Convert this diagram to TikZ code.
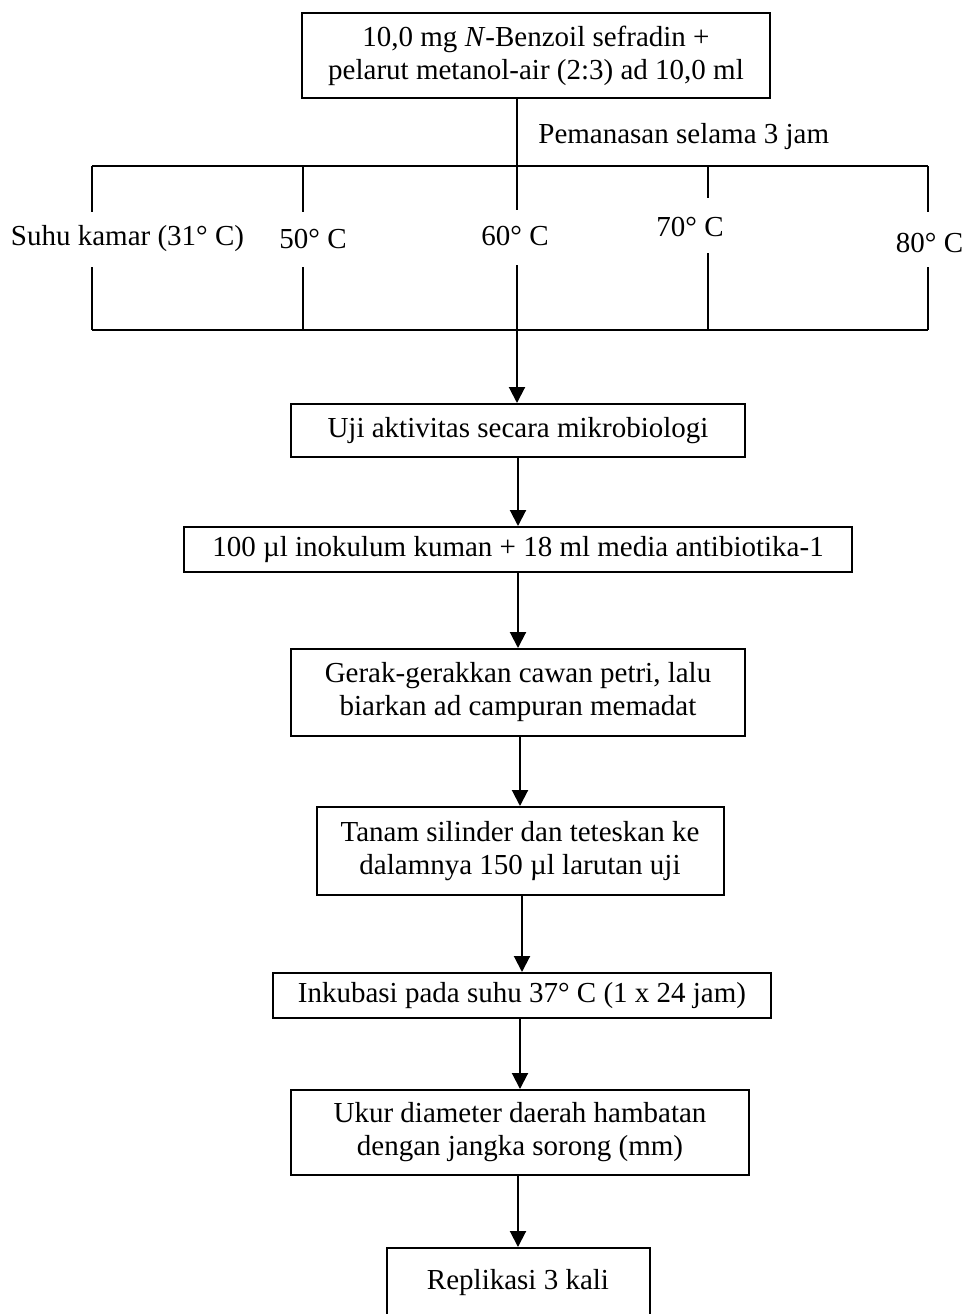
\documentclass[tikz,border=0pt]{standalone}
\usepackage{fontspec}
\setmainfont{Liberation Serif}
\usepackage{tikz}
\usetikzlibrary{arrows.meta,positioning}
\tikzset{
  stepbox/.style={
    draw,
    rectangle,
    align=center,
    inner sep=0pt,
    line width=1pt,
    font=\fontsize{14.5pt}{16.5pt}\selectfont,
  },
  templabel/.style={
    inner sep=0pt,
    font=\fontsize{14.5pt}{16.5pt}\selectfont,
  },
  bus/.style={line width=1pt},
  flow/.style={line width=1pt, -{Triangle[length=8pt,width=8pt]}},
}

\begin{document}
\begin{tikzpicture}[x=0.5pt,y=-0.5pt]
  \useasboundingbox (0,0) rectangle (966,1314);
  \node[stepbox, minimum width=234pt, minimum height=42.5pt] (sample) at (536,55.5)
    {10,0 mg \textit{N}-Benzoil sefradin +\\pelarut metanol-air (2:3) ad 10,0 ml};
  \node[templabel, anchor=west] (heat) at (538,137) {Pemanasan selama 3 jam};
  \foreach \i/\x/\lx/\ly/\ea/\eb/\txt in {
      1/92/127.5/239/212/267/Suhu kamar (31° C),
      2/303/313/239/212/267/50° C,
      3/517/515/236/210/265/60° C,
      4/708/690/227/198/253/70° C,
      5/928/929.5/243/212/267/80° C} {
    \coordinate (top\i) at (\x,166);
    \coordinate (bot\i) at (\x,330);
    \coordinate (ta\i) at (\x,\ea);
    \coordinate (tb\i) at (\x,\eb);
    \node[templabel] (temp\i) at (\lx,\ly) {\txt};
    \draw[bus] (top\i) -- (ta\i);
    \draw[bus] (tb\i) -- (bot\i);
  }
  \draw[bus] (top1) -- (top5);
  \draw[bus] (bot1) -- (bot5);
  \draw[bus] (sample.south -| top3) -- (top3);

  \node[stepbox, minimum width=227pt, minimum height=26.5pt] (uji) at (518,430.5)
    {Uji aktivitas secara mikrobiologi};
  \node[stepbox, minimum width=334pt, minimum height=22.5pt] (inok) at (518,549.5)
    {100 µl inokulum kuman + 18 ml media antibiotika-1};
  \node[stepbox, minimum width=227pt, minimum height=43.5pt] (gerak) at (518,692.5)
    {Gerak-gerakkan cawan petri, lalu\\biarkan ad campuran memadat};
  \node[stepbox, minimum width=203.5pt, minimum height=44pt] (tanam) at (520,851)
    {Tanam silinder dan teteskan ke\\dalamnya 150 µl larutan uji};
  \node[stepbox, minimum width=249pt, minimum height=22.5pt] (inkub) at (522,995.5)
    {Inkubasi pada suhu 37° C (1 x 24 jam)};
  \node[stepbox, minimum width=229pt, minimum height=42.5pt] (ukur) at (520,1132.5)
    {Ukur diameter daerah hambatan\\dengan jangka sorong (mm)};
  \node[stepbox, minimum width=131.5pt, minimum height=35pt] (repl) at (518,1283)
    {Replikasi 3 kali};

  \draw[flow] (bot3) -- (bot3 |- uji.north);
  \foreach \a/\b in {uji/inok,inok/gerak,gerak/tanam,tanam/inkub,inkub/ukur,ukur/repl} {
    \draw[flow] (\b.north |- \a.south) -- (\b.north);
  }
\end{tikzpicture}
\end{document}
